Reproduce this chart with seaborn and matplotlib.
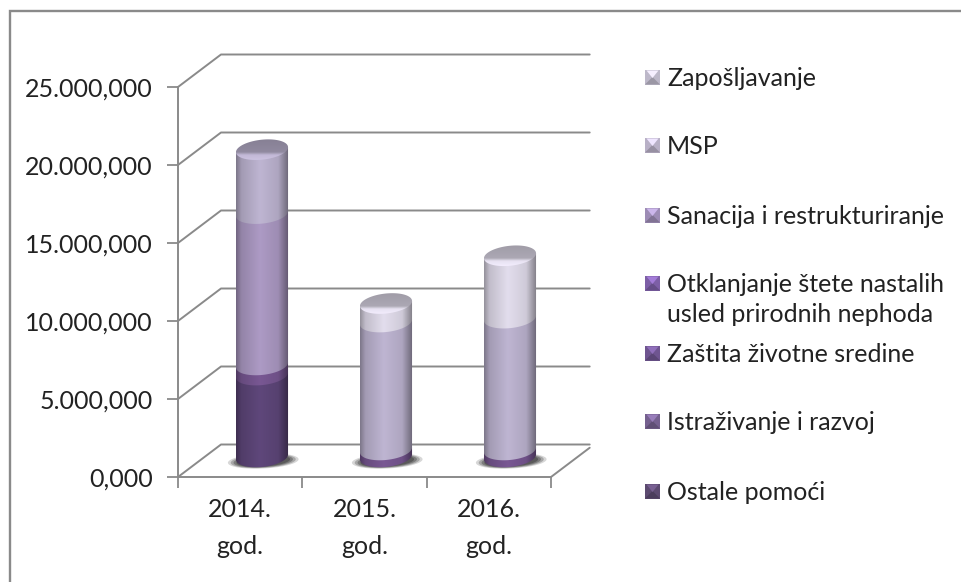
import numpy as np
import matplotlib
matplotlib.use("Agg")
import matplotlib.pyplot as plt
from matplotlib.colors import to_rgb
from matplotlib.path import Path
from matplotlib.patches import Polygon, Rectangle
import seaborn as sns

years = ["2014.\ngod.", "2015.\ngod.", "2016.\ngod."]
y_ticks = [0, 5000000, 10000000, 15000000, 20000000, 25000000]
y_tick_labels = ["0,000", "5.000,000", "10.000,000", "15.000,000", "20.000,000", "25.000,000"]

# stacked from the bottom up
ostale = [5250000, 0, 0]
istrazivanje = [650000, 450000, 450000]
zastita = [0, 0, 0]
otklanjanje = [0, 0, 0]
sanacija = [9700000, 0, 0]
msp = [4100000, 8200000, 8450000]
zaposljavanje = [0, 1190000, 4000000]

series = [ostale, istrazivanje, zastita, otklanjanje, sanacija, msp, zaposljavanje]
series_colors = ["#5c4577", "#75558f", "#6a4f8a", "#7a5ea0", "#a896bf", "#b9b0cc", "#dcd7e6"]

legend_labels = ["Zapošljavanje", "MSP", "Sanacija i restrukturiranje",
                 "Otklanjanje štete nastalih\nusled prirodnih nephoda",
                 "Zaštita životne sredine", "Istraživanje i razvoj", "Ostale pomoći"]
legend_y = [77, 145, 215, 283, 353, 421, 491]
legend_colors = ["#bdb8c9", "#b8b0c6", "#9d8cb5", "#7d5fa6", "#6f5590", "#75608f", "#5c4a70"]

W, H = 961, 582
GRAY = "#8a8a8a"
FONT = 18

sns.set_theme(style="white")
plt.rcParams["font.family"] = ["Lato", "DejaVu Sans"]


def px_axes(fig, left, top, right, bottom):
    ax = fig.add_axes([left / W, 1 - bottom / H, (right - left) / W, (bottom - top) / H])
    return ax


def ellipse_xy(cx, yc, a, b, tilt, t):
    x = cx + a * np.cos(t)
    y = yc + b * np.sin(t) + tilt * np.cos(t)
    return x, y


def shade_ramp(color):
    # lighter middle, dark edges, like the excel cylinders
    base = np.array(to_rgb(color))
    pos = np.linspace(0, 1, 80)
    fac = np.interp(pos, [0, 0.1, 0.45, 0.8, 1], [0.68, 0.88, 1.03, 0.94, 0.58])
    return np.clip(base[None, :] * fac[:, None], 0, 1)[None, :, :]


fig = plt.figure(figsize=(W / 100, H / 100), dpi=100, facecolor="white")

# frame + legend, in pixels
ax_page = px_axes(fig, 0, 0, W, H)
ax_page.set_xlim(0, W)
ax_page.set_ylim(H, 0)
ax_page.axis("off")
ax_page.plot([9.5, 9.5, W], [H, 11, 11], color=GRAY, lw=1.7, solid_joinstyle="miter")

for lab, yy, col in zip(legend_labels, legend_y, legend_colors):
    x0, x1, y0, y1 = 645, 660, yy - 7.5, yy + 7.5
    xm, ym = (x0 + x1) / 2, (y0 + y1) / 2
    c = np.array(to_rgb(col))
    # bevelled key: flat square, pale wedge on top, darker foot
    ax_page.add_patch(Rectangle((x0, y0), x1 - x0, y1 - y0, fc=c, ec="none"))
    ax_page.add_patch(Polygon([(x0, y1), (x1, y1), (xm, ym)], fc=c * 0.82, ec="none"))
    ax_page.add_patch(Polygon([(x0 + 1.5, y0 + 1), (x1 - 1.5, y0 + 1), (xm, ym + 1)],
                              fc=np.clip(c * 1.3, 0, 1), ec="none"))
    ax_page.text(667, yy - 10.5, lab, fontsize=FONT, color="#222222", va="top", ha="left", linespacing=1.42)

# front plane: the real axes with ticks
ax = px_axes(fig, 178, 87, 551, 477)
ax.patch.set_alpha(0)
ax.set_xlim(-0.5, 2.5)
ax.set_ylim(0, 25000000)
ax.set_yticks(y_ticks)
ax.set_yticklabels(y_tick_labels, fontsize=FONT, color="#222222")
ax.set_xticks([-0.5, 0.5, 1.5, 2.5])
ax.set_xticklabels([])
ax.set_xticks([0, 1, 2], minor=True)
ax.set_xticklabels(years, minor=True, fontsize=FONT, color="#222222", linespacing=1.72)
ax.tick_params(axis="y", length=8, width=1.3, color=GRAY, pad=10, left=True)
ax.tick_params(axis="x", which="major", length=8, width=1.3, color=GRAY, bottom=True)
ax.tick_params(axis="x", which="minor", length=0, pad=15)
sns.despine(ax=ax)
for s in ["left", "bottom"]:
    ax.spines[s].set_color(GRAY)
    ax.spines[s].set_linewidth(1.4)

# depth of the box, in data units of the front plane
dx = 43 / (373 / 3)
dy = 32.5 / 78 * 5000000
for v in y_ticks:
    ax.plot([-0.5, -0.5 + dx, 2.5 + dx * 0.9], [v, v + dy, v + dy], color=GRAY, lw=1.4, clip_on=False)
ax.plot([2.5, 2.5 + dx * 0.9], [0, dy * 0.9], color=GRAY, lw=1.4, clip_on=False)

# bars: plane in the middle of the box
ax_b = px_axes(fig, 200, 67, 572, 457)
ax_b.patch.set_alpha(0)

bottoms = np.zeros(len(years))
groups = []
for vals, col in zip(series, series_colors):
    n = len(ax_b.patches)
    sns.barplot(x=years, y=vals, color=col, saturation=1, width=0.42, bottom=bottoms,
                errorbar=None, ax=ax_b)
    groups.append((col, ax_b.patches[n:]))
    bottoms = bottoms + np.array(vals)

px_y = 5000000 / 78
b_el = 10 * px_y
tilt = 2.5 * px_y
t_front = np.linspace(np.pi, 2 * np.pi, 50)
t_all = np.linspace(0, 2 * np.pi, 100)

# contact shadows
for i in range(len(years)):
    for k, alpha in zip([1.0, 0.92, 0.84, 0.76], [0.2, 0.3, 0.4, 0.5]):
        x, y = ellipse_xy(i + 0.01, -4 * px_y, 0.285 * k, 7.5 * k * px_y, tilt * 0.7, t_all)
        ax_b.fill(x, y, color="#3a3a3a", alpha=alpha, lw=0, zorder=1, clip_on=False)

z = 2
caps = {}
for col, bars in groups:
    ramp = shade_ramp(col)
    for i, bar in enumerate(bars):
        bar.set_visible(False)
        h = bar.get_height()
        if h <= 0:
            continue
        l = bar.get_x()
        w = bar.get_width()
        a = w / 2
        bot = bar.get_y()
        top = bot + h
        xa, ya = ellipse_xy(l + a, bot, a, b_el, tilt, t_front)
        pts = np.vstack([np.column_stack([xa, ya]), [l + w, top + tilt], [l, top - tilt]])
        im = ax_b.imshow(ramp, extent=[l, l + w, bot - 2 * b_el, top + 2 * b_el], aspect="auto", zorder=z)
        im.set_clip_box(fig.bbox)
        im.set_clip_path(Path(np.vstack([pts, pts[0]])), transform=ax_b.transData)
        z += 1
        caps[i] = (l + a, top, a, col)

# top caps: darker at the back, light rim at the front
for i, (cx, top, a, col) in caps.items():
    base = np.array(to_rgb(col))
    fac = np.interp(np.linspace(0, 1, 60), [0, 0.6, 0.72, 1], [0.72, 0.78, 1.05, 1.12])
    grad = np.clip(base[None, :] * fac[:, None], 0, 1)[:, None, :]
    x, y = ellipse_xy(cx, top, a, b_el, tilt, t_all)
    im = ax_b.imshow(grad, extent=[cx - a, cx + a, top - b_el - tilt, top + b_el + tilt],
                     origin="upper", aspect="auto", zorder=z)
    im.set_clip_box(fig.bbox)
    im.set_clip_path(Path(np.column_stack([x, y])), transform=ax_b.transData)
    z += 1

ax_b.set_xlim(-0.5, 2.5)
ax_b.set_ylim(0, 25000000)
ax_b.axis("off")

plt.savefig("out.png", dpi=100)
plt.close()
